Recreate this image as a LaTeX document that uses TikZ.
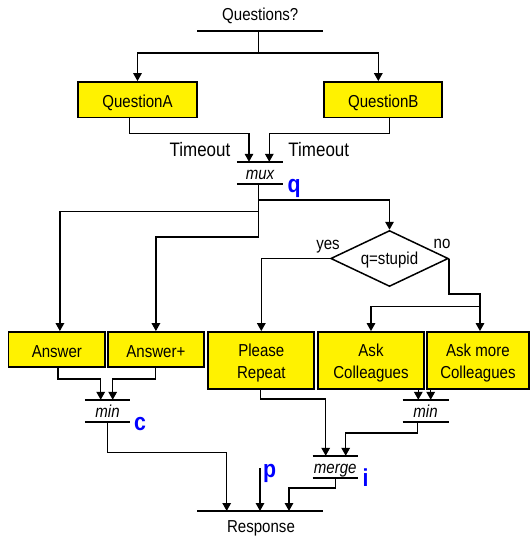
\documentclass[tikz,border=0pt]{standalone}
\usepackage{fontspec}
\setmainfont{Liberation Sans}[FakeStretch=0.87]
\usetikzlibrary{arrows.meta,shapes.geometric}

\begin{document}
\begin{tikzpicture}[x=1pt,y=-1pt,
  txt/.style={inner sep=0pt, font=\fontsize{17.3}{22}\selectfont},
  task/.style={txt, draw, line width=1.8pt, fill=yellow, align=center},
  oneline/.style={task, text height=16pt, text depth=0pt},
  twoline/.style={task, text height=36.4pt, text depth=0pt},
  opnode/.style={txt, font=\fontsize{17.3}{22}\selectfont\itshape, minimum height=22, minimum width=45,
    text height=12.8pt, text depth=0pt},
  bigtxt/.style={inner sep=0pt, font=\fontsize{19.5}{22}\selectfont},
  sig/.style={inner sep=0pt, text=blue, anchor=base west, font=\fontsize{24.5}{25}\selectfont\bfseries},
  bar/.style={line width=1.5pt},
  wire/.style={line width=1.5pt},
  flow/.style={wire, -{Triangle[width=8.5pt,length=8pt]}},
]
\useasboundingbox (0,0) rectangle (530,536);

% input and output terminals
\node[txt] (qs) at (260.3,15.5) {Questions?};
\coordinate (qsl) at (197,31);
\coordinate (qsr) at (323,31);
\coordinate (qsbar) at (258.3,31);
\coordinate (split) at (258.3,53);
\draw[bar] (qsl) -- (qsr);

\node[txt] (resp) at (261,528) {Response};
\coordinate (rsl) at (197,511);
\coordinate (rsr) at (323,511);
\coordinate (rin1) at (226.7,511);
\coordinate (rin2) at (260,511);
\coordinate (rin3) at (289,511);
\coordinate (pin) at (260,468);
\draw[bar] (rsl) -- (rsr);

% task boxes
\node[oneline, minimum width=118.4, minimum height=35.5] (qa) at (137.5,99.75) {QuestionA};
\node[oneline, minimum width=118, minimum height=35.5] (qb) at (383.3,99.75) {QuestionB};
\node[oneline, minimum width=96.8, minimum height=35] (ans) at (56.9,349.5) {Answer};
\node[oneline, minimum width=96.3, minimum height=35] (ansp) at (155.9,349.5) {Answer+};
\node[twoline, minimum width=106, minimum height=57] (rep) at (261.3,360.5) {Please\\Repeat};
\node[twoline, minimum width=106.6, minimum height=57] (ask) at (371,360.5) {Ask\\Colleagues};
\node[twoline, minimum width=102.3, minimum height=57] (askm) at (477.9,360.5) {Ask more\\Colleagues};

% decision
\node[txt, draw, diamond, line width=1.5pt, aspect=2.1, text height=12.4pt, text depth=0pt,
      minimum width=117.6, minimum height=56] (dec) at (389.5,258.5) {q=stupid};
\node[txt] (yes) at (328,247) {yes};
\node[txt] (no) at (442,244.3) {no};

% combining operators
\node[opnode, minimum width=46] (mux) at (260,173) {mux};
\node[opnode] (min1) at (107.5,411) {min};
\node[opnode, minimum width=45.6] (min2) at (425.5,411) {min};
\node[opnode] (mrg) at (335.2,467) {merge};
\foreach \op in {mux,min1,min2,mrg}{
  \draw[bar] (\op.north west) -- (\op.north east);
  \draw[bar] (\op.south west) -- (\op.south east);
}

% labels
\node[bigtxt] (tol) at (200,149.7) {Timeout};
\node[bigtxt] (tor) at (318.8,149.7) {Timeout};
\node[sig] (lq) at (287.5,192) {q};
\node[sig] (lc) at (134,430) {c};
\node[sig] (lp) at (263,477) {p};
\node[sig] (li) at (362.5,486) {i};

% question fan-out
\draw[wire] (qsbar) -- (split);
\draw[flow] (split) -| (qa.north);
\draw[flow] (split) -| ([xshift=-5pt]qb.north);

% into the multiplexer
\draw[flow] ([xshift=-8.2pt]qa.south) -- ++(0,15.2) -| ([xshift=-11pt]mux.north);
\draw[flow] ([xshift=6pt]qb.south) -- ++(0,15.2) -| ([xshift=9.3pt]mux.north);

% out of the multiplexer
\draw[flow] ([xshift=-1.7pt]mux.south) -- ++(0,16) -| (dec.north);
\draw[flow] ([xshift=-1.7pt]mux.south) -- ++(0,27.3) -| ([xshift=3pt]ans.north);
\draw[flow] ([xshift=-1.7pt]mux.south) -- ++(0,52.7) -| (ansp.north);

% decision branches
\coordinate (nojoin) at ([xshift=2.1pt,yshift=24.7pt]askm.north);
\draw[flow] (dec.west) -| (rep.north);
\draw[flow] (dec.east) -- ++(0,35.5) -| ([xshift=2.1pt]askm.north);
\draw[flow] (nojoin) -| (ask.north);

% answers into min
\draw[flow] ([xshift=1.1pt]ans.south) -- ++(0,11) -| ([xshift=-6.8pt]min1.north);
\draw[flow] ([xshift=-0.2pt]ansp.south) -- ++(0,11) -| ([xshift=5.2pt]min1.north);

% colleagues into min
\draw[flow] ([xshift=-7.2pt]min2.north |- ask.south) -- ([xshift=-7.2pt]min2.north);
\draw[flow] ([xshift=5.2pt]min2.north |- askm.south) -- ([xshift=5.2pt]min2.north);

% into merge
\draw[flow] ([xshift=-0.6pt]rep.south) -- ++(0,9) -| ([xshift=-9.5pt]mrg.north);
\draw[flow] ([xshift=-7.8pt]min2.south) -- ++(0,11) -| ([xshift=10.5pt]mrg.north);

% into the response
\draw[flow] ([xshift=-0.2pt]min1.south) -- ++(0,30.3) -| (rin1);
\draw[flow] (pin) -- (rin2);
\draw[flow] ([xshift=0.5pt]mrg.south) -- ++(0,10) -| (rin3);
\end{tikzpicture}
\end{document}
